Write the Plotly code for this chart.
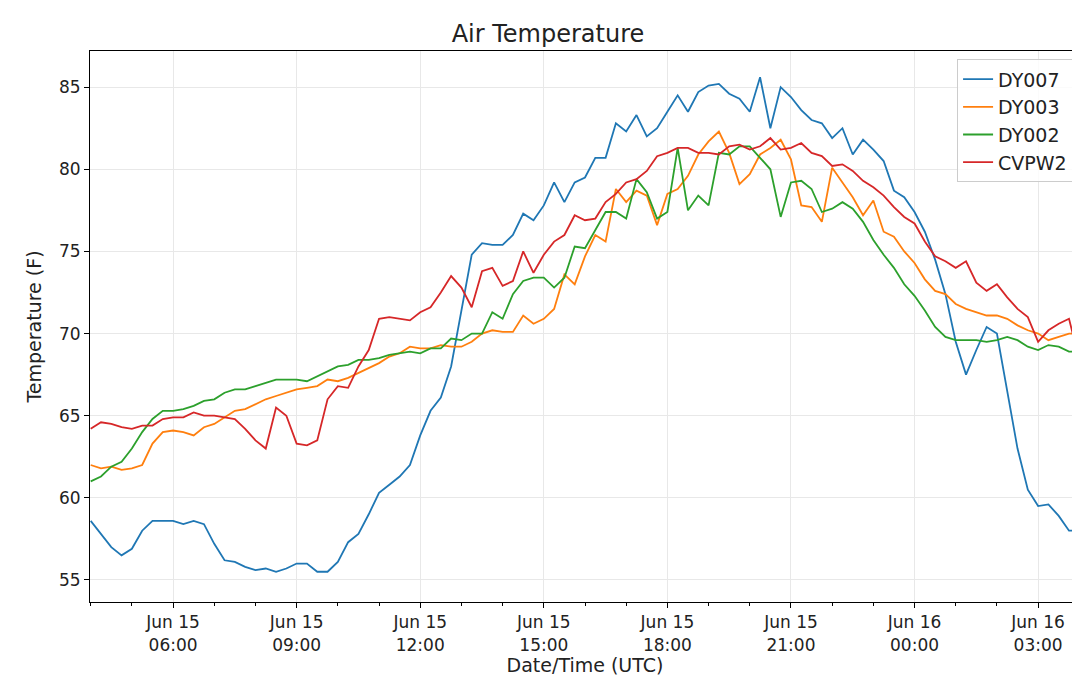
import pandas as pd
import plotly.graph_objects as go

# 15-minute readings, 2019-06-15 04:00 to 2019-06-16 04:00 (UTC)
times = pd.date_range('2019-06-15 04:00', '2019-06-16 04:00', freq='15min')

dy007 = [58.6, 57.8, 57.0, 56.5, 56.9, 58.0, 58.6, 58.6, 58.6, 58.4, 58.6, 58.4, 57.2, 56.2, 56.1, 55.8,
         55.6, 55.7, 55.5, 55.7, 56.0, 56.0, 55.5, 55.5, 56.1, 57.3, 57.8, 59.0, 60.3, 60.8, 61.3, 62.0,
         63.8, 65.3, 66.1, 68.0, 71.5, 74.8, 75.5, 75.4, 75.4, 76.0, 77.3, 76.9, 77.8, 79.2, 78.0, 79.2,
         79.5, 80.7, 80.7, 82.8, 82.3, 83.3, 82.0, 82.5, 83.5, 84.5, 83.5, 84.7, 85.1, 85.2, 84.6, 84.3,
         83.5, 85.6, 82.5, 85.0, 84.4, 83.6, 83.0, 82.8, 81.9, 82.5, 80.9, 81.8, 81.2, 80.5, 78.7, 78.3,
         77.4, 76.2, 74.5, 72.4, 69.5, 67.5, 69.0, 70.4, 70.0, 66.5, 63.0, 60.5, 59.5, 59.6, 58.9, 58.0, 58.0]
dy003 = [62.0, 61.8, 61.9, 61.7, 61.8, 62.0, 63.3, 64.0, 64.1, 64.0, 63.8, 64.3, 64.5, 64.9, 65.3, 65.4,
         65.7, 66.0, 66.2, 66.4, 66.6, 66.7, 66.8, 67.2, 67.1, 67.3, 67.6, 67.9, 68.2, 68.6, 68.8, 69.2,
         69.1, 69.1, 69.3, 69.2, 69.2, 69.5, 70.0, 70.2, 70.1, 70.1, 71.1, 70.6, 70.9, 71.5, 73.6, 73.0,
         74.7, 76.0, 75.6, 78.8, 78.0, 78.7, 78.4, 76.6, 78.5, 78.8, 79.6, 80.9, 81.7, 82.3, 81.0, 79.1,
         79.7, 80.9, 81.3, 81.8, 80.6, 77.8, 77.7, 76.8, 80.1, 79.2, 78.3, 77.2, 78.1, 76.2, 75.9, 75.0,
         74.3, 73.3, 72.6, 72.4, 71.8, 71.5, 71.3, 71.1, 71.1, 70.9, 70.5, 70.2, 70.0, 69.6, 69.8, 70.0, 70.0]
dy002 = [61.0, 61.3, 61.9, 62.2, 63.0, 64.0, 64.8, 65.3, 65.3, 65.4, 65.6, 65.9, 66.0, 66.4, 66.6, 66.6,
         66.8, 67.0, 67.2, 67.2, 67.2, 67.1, 67.4, 67.7, 68.0, 68.1, 68.4, 68.4, 68.5, 68.7, 68.8, 68.9,
         68.8, 69.1, 69.1, 69.7, 69.6, 70.0, 70.0, 71.3, 70.9, 72.4, 73.2, 73.4, 73.4, 72.8, 73.4, 75.3,
         75.2, 76.3, 77.4, 77.4, 77.0, 79.4, 78.6, 77.0, 77.4, 81.3, 77.5, 78.4, 77.8, 81.0, 80.9, 81.4,
         81.4, 80.7, 80.0, 77.1, 79.2, 79.3, 78.8, 77.4, 77.6, 78.0, 77.6, 76.8, 75.7, 74.8, 74.0, 73.0,
         72.3, 71.4, 70.4, 69.8, 69.6, 69.6, 69.6, 69.5, 69.6, 69.8, 69.6, 69.2, 69.0, 69.3, 69.2, 68.9, 68.9]
cvpw2 = [64.2, 64.6, 64.5, 64.3, 64.2, 64.4, 64.4, 64.8, 64.9, 64.9, 65.2, 65.0, 65.0, 64.9, 64.8, 64.2,
         63.5, 63.0, 65.5, 65.0, 63.3, 63.2, 63.5, 66.0, 66.8, 66.7, 68.0, 69.0, 70.9, 71.0, 70.9, 70.8,
         71.3, 71.6, 72.5, 73.5, 72.8, 71.6, 73.8, 74.0, 72.9, 73.2, 75.0, 73.7, 74.8, 75.6, 76.0, 77.2,
         76.9, 77.0, 78.0, 78.5, 79.2, 79.4, 79.9, 80.8, 81.0, 81.3, 81.3, 81.0, 81.0, 80.9, 81.4, 81.5,
         81.2, 81.4, 81.9, 81.2, 81.3, 81.6, 81.0, 80.8, 80.2, 80.3, 79.9, 79.3, 78.9, 78.4, 77.7, 77.1,
         76.7, 75.6, 74.7, 74.4, 74.0, 74.4, 73.1, 72.6, 73.0, 72.2, 71.5, 71.0, 69.5, 70.2, 70.6, 70.9, 68.4]

series = {'DY007': dy007, 'DY003': dy003, 'DY002': dy002, 'CVPW2': cvpw2}
colors = ['#1f77b4', '#ff7f0e', '#2ca02c', '#d62728']

tick_times = pd.date_range('2019-06-15 06:00', '2019-06-16 03:00', freq='3h')
tick_text = [t.strftime('%b %d<br>%H:%M') for t in tick_times]

fig = go.Figure()
for (name, vals), c in zip(series.items(), colors):
    fig.add_trace(go.Scatter(x=times, y=vals, name=name, mode='lines',
                             line=dict(color=c, width=1.8)))

axis_style = dict(showline=True, linecolor='black', linewidth=1, mirror=True,
                  showgrid=True, gridcolor='#e8e8e8', ticks='outside', ticklen=5,
                  tickcolor='black', tickfont=dict(size=17, color='#222'), automargin=False)

fig.update_layout(
    width=1080, height=682,
    paper_bgcolor='white', plot_bgcolor='white',
    font=dict(family='DejaVu Sans', color='#222'),
    title=dict(text='Air Temperature', x=0.5, xanchor='center', y=0.962, yanchor='middle',
               font=dict(size=24)),
    margin=dict(l=82, r=8, t=43, b=88),
    showlegend=True,
    legend=dict(x=0.993, y=0.985, xanchor='right', yanchor='top', bordercolor='#cccccc',
                borderwidth=1, bgcolor='rgba(255,255,255,0.8)', font=dict(size=19)),
    xaxis=dict(range=['2019-06-15 03:59', '2019-06-16 04:01'], tickvals=tick_times,
               ticktext=tick_text, minor=dict(dtick=3600000, ticks='outside', ticklen=3,
                                              tickcolor='black', showgrid=False),
               title=dict(text='Date/Time (UTC)', font=dict(size=19), standoff=0), **axis_style),
    yaxis=dict(range=[53.66, 87.2], tickvals=[55, 60, 65, 70, 75, 80, 85],
               title=dict(text='Temperature (F)', font=dict(size=19), standoff=12), **axis_style),
)

fig.write_html('out.html')
